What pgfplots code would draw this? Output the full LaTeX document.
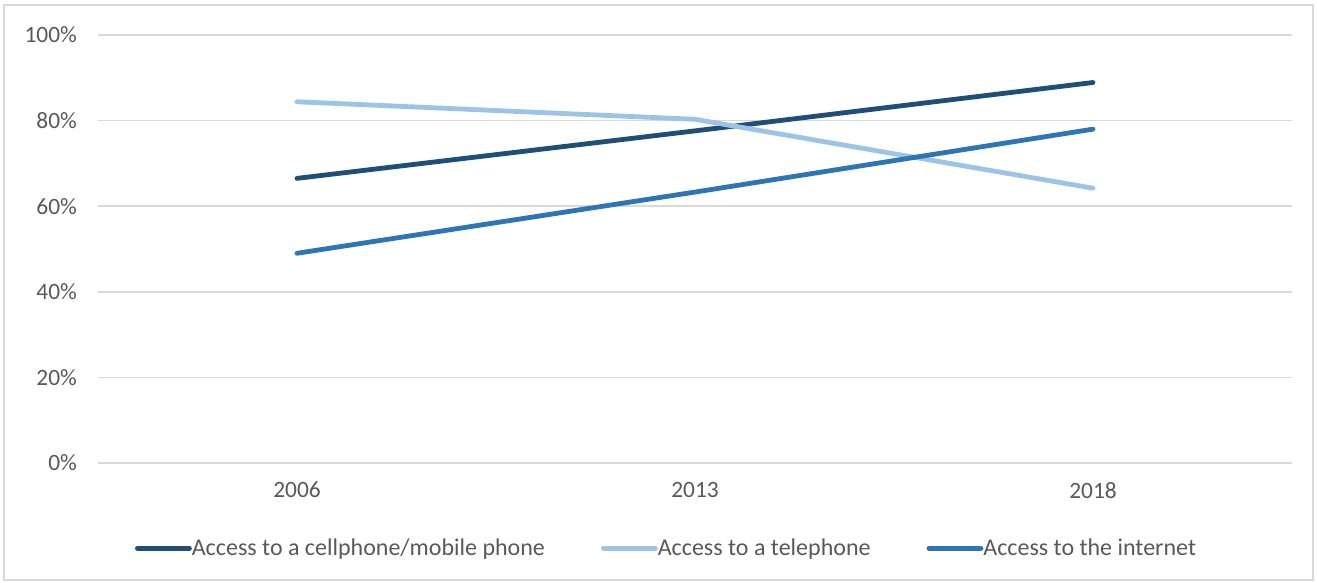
\documentclass[border=0pt]{standalone}
\usepackage{pgfplots}
\pgfplotsset{compat=1.18}
\usepackage{fontspec}
\setmainfont{Carlito}
\definecolor{cDark}{HTML}{1F4E79}
\definecolor{cLight}{HTML}{9DC3E6}
\definecolor{cMid}{HTML}{2E75B6}
\definecolor{cGrid}{HTML}{D9D9D9}
\definecolor{cText}{HTML}{595959}
\pgfplotstableread{
x y
0 66.5
1 77.6
2 88.9
}\cell
\pgfplotstableread{
x y
0 84.4
1 80.3
2 64.2
}\tel
\pgfplotstableread{
x y
0 49.0
1 63.3
2 78.0
}\net
\begin{document}
\begin{tikzpicture}
\draw[cGrid, line width=0.75pt] (2pt,1.5pt) rectangle (656.5pt,289pt);
\path[use as bounding box] (0,0) rectangle (658.5pt,291.5pt);
\begin{axis}[
  at={(49pt,60pt)}, anchor=south west,
  scale only axis,
  width=597pt, height=214pt,
  xmin=-0.5, xmax=2.5,
  ymin=0, ymax=100,
  xtick={0,1,2},
  xticklabels={2006,2013,2018},
  ytick={0,20,40,60,80,100},
  yticklabel={\pgfmathprintnumber{\tick}\%},
  /pgf/number format/assume math mode=true,
  ymajorgrids,
  grid style={cGrid, line width=0.75pt},
  axis line style={draw=none},
  major tick length=0pt,
  tick label style={font=\fontsize{11.7}{14}\selectfont, text=cText},
  yticklabel style={xshift=-7pt},
  xticklabel style={yshift=-6pt},
  legend style={
    at={(0.477,-0.199)}, anchor=center,
    draw=none, fill=none,
    font=\fontsize{12}{14}\selectfont, text=cText,
    legend columns=3,
    /tikz/every even column/.append style={column sep=26pt},
    /tikz/every odd column/.append style={column sep=-2pt},
  },
  legend cell align=left,
  legend image code/.code={\draw[#1, line cap=round] (0pt,0pt) -- (26pt,0pt);},
]
\addplot[cDark, line width=2.4pt, line cap=round, line join=round] table[x=x,y=y] {\cell};
\addlegendentry{Access to a cellphone/mobile phone}
\addplot[cLight, line width=2.4pt, line cap=round, line join=round] table[x=x,y=y] {\tel};
\addlegendentry{Access to a telephone}
\addplot[cMid, line width=2.4pt, line cap=round, line join=round] table[x=x,y=y] {\net};
\addlegendentry{Access to the internet}
\end{axis}
\end{tikzpicture}
\end{document}
